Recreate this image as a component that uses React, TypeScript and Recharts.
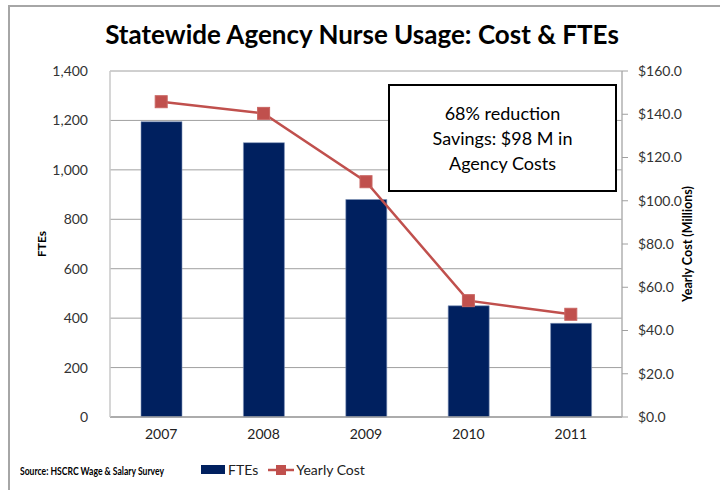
import {
  ComposedChart,
  Bar,
  Line,
  XAxis,
  YAxis,
  CartesianGrid,
} from "recharts";

document.body.style.margin = "0";

const years = ["2007", "2008", "2009", "2010", "2011"];
const ftes = [1195, 1110, 880, 450, 379];
const yearlyCost = [145.8, 140.4, 108.8, 53.8, 47.5];
const fteTicks = [0, 200, 400, 600, 800, 1000, 1200, 1400];
const costTicks = [0, 20, 40, 60, 80, 100, 120, 140, 160];

const data = years.map((year, i) => ({
  year,
  FTEs: ftes[i],
  "Yearly Cost": yearlyCost[i],
}));

const font = "Lato, 'Open Sans', 'DejaVu Sans', sans-serif";
const navy = "#00205f";
const red = "#c0504d";

const SquareDot = (props: any) => {
  const { cx, cy, index } = props;
  if (cx == null || cy == null) return null;
  return (
    <rect
      key={`dot-${index}`}
      x={cx - 6}
      y={cy - 6}
      width={12}
      height={12}
      fill={red}
      stroke="#c86461"
      strokeWidth={1}
    />
  );
};

export default function App() {
  return (
    <div
      style={{
        position: "relative",
        width: 720,
        height: 490,
        background: "#fff",
        fontFamily: font,
        overflow: "hidden",
      }}
    >
      <div
        style={{
          position: "absolute",
          left: 8,
          top: 5,
          width: 712,
          height: 485,
          borderTop: "2px solid #a6a6a6",
          borderLeft: "2px solid #a6a6a6",
          boxSizing: "border-box",
        }}
      />
      <div
        style={{
          position: "absolute",
          left: 0,
          top: 18,
          width: 724,
          textAlign: "center",
          fontSize: 26,
          fontWeight: 700,
          color: "#000",
        }}
      >
        Statewide Agency Nurse Usage: Cost &amp; FTEs
      </div>

      <ComposedChart
        width={720}
        height={490}
        data={data}
        margin={{ top: 71, right: 28, bottom: 43, left: 40 }}
      >
        <CartesianGrid
          yAxisId="left"
          vertical={false}
          stroke="#a0a0a0"
          strokeWidth={1}
        />
        <XAxis
          dataKey="year"
          height={30}
          tickLine={false}
          axisLine={{ stroke: "#a0a0a0", strokeWidth: 1.5 }}
          tick={{ fill: "#222", fontSize: 14, fontFamily: font }}
          tickMargin={6}
        />
        <YAxis
          yAxisId="left"
          orientation="left"
          width={70}
          domain={[0, 1400]}
          ticks={fteTicks}
          interval={0}
          tickLine={false}
          axisLine={{ stroke: "#c8c8c8", strokeWidth: 1.5 }}
          tickMargin={16}
          tick={{ fill: "#333", fontSize: 14, fontFamily: font }}
          tickFormatter={(v: number) => v.toLocaleString("en-US")}
          label={{
            value: "FTEs",
            angle: -90,
            position: "insideLeft",
            offset: 2,
            style: {
              fill: "#000",
              fontSize: 12,
              fontWeight: 700,
              fontFamily: font,
              textAnchor: "middle",
            },
          }}
        />
        <YAxis
          yAxisId="right"
          orientation="right"
          width={70}
          domain={[0, 160]}
          ticks={costTicks}
          interval={0}
          tickSize={6}
          tickLine={{ stroke: "#a0a0a0" }}
          axisLine={{ stroke: "#b0b0b0", strokeWidth: 1.5 }}
          tickMargin={10}
          tick={{ fill: "#333", fontSize: 14, fontFamily: font }}
          tickFormatter={(v: number) => `$${v.toFixed(1)}`}
          label={{
            value: "Yearly Cost (Millions)",
            angle: -90,
            position: "insideRight",
            offset: 4,
            style: {
              fill: "#000",
              fontSize: 12.5,
              fontWeight: 700,
              fontFamily: font,
              textAnchor: "middle",
            },
          }}
        />
        <Bar
          yAxisId="left"
          dataKey="FTEs"
          fill={navy}
          stroke="#8093b8"
          strokeWidth={0.6}
          barSize={41}
          isAnimationActive={false}
        />
        <Line
          yAxisId="right"
          dataKey="Yearly Cost"
          stroke={red}
          strokeWidth={2.5}
          dot={SquareDot}
          activeDot={false}
          isAnimationActive={false}
        />
      </ComposedChart>

      <div
        style={{
          position: "absolute",
          left: 388,
          top: 84,
          width: 229,
          height: 108,
          border: "2px solid #000",
          boxSizing: "border-box",
          background: "#fff",
          display: "flex",
          flexDirection: "column",
          justifyContent: "center",
          alignItems: "center",
          fontSize: 18,
          lineHeight: "25px",
          color: "#000",
          textAlign: "center",
        }}
      >
        <div>68% reduction</div>
        <div>Savings: $98 M in</div>
        <div>Agency Costs</div>
      </div>

      <div
        style={{
          position: "absolute",
          left: 20,
          top: 464,
          fontSize: 11,
          fontWeight: 700,
          color: "#000",
          whiteSpace: "nowrap",
          transform: "scaleX(0.78)",
          transformOrigin: "left center",
        }}
      >
        Source: HSCRC Wage &amp; Salary Survey
      </div>

      <div
        style={{
          position: "absolute",
          left: 201,
          top: 461,
          display: "flex",
          alignItems: "center",
          fontSize: 14,
          color: "#222",
        }}
      >
        <span
          style={{
            display: "inline-block",
            width: 24,
            height: 9,
            background: navy,
            marginRight: 3,
          }}
        />
        <span style={{ marginRight: 10 }}>FTEs</span>
        <svg width={26} height={14} style={{ marginRight: 2 }}>
          <line x1={0} y1={7} x2={26} y2={7} stroke={red} strokeWidth={2.5} />
          <rect x={8} y={2} width={10} height={10} fill={red} />
        </svg>
        <span>Yearly Cost</span>
      </div>
    </div>
  );
}
